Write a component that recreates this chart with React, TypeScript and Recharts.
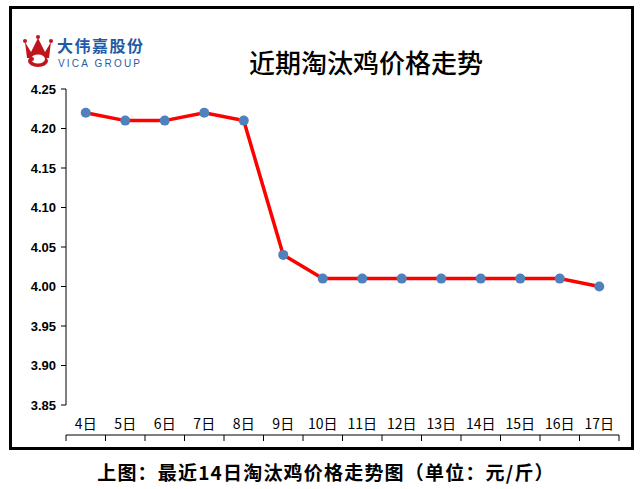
import { LineChart, Line, XAxis, YAxis } from "recharts";

const days = ["4日", "5日", "6日", "7日", "8日", "9日", "10日", "11日", "12日", "13日", "14日", "15日", "16日", "17日"];
const prices = [4.22, 4.21, 4.21, 4.22, 4.21, 4.04, 4.01, 4.01, 4.01, 4.01, 4.01, 4.01, 4.01, 4.0];
const yTicks = [3.85, 3.9, 3.95, 4.0, 4.05, 4.1, 4.15, 4.2, 4.25];
const boundaryTicks = days.map((_, i) => i).concat(days.length);
const centerTicks = days.map((_, i) => i + 0.5);

const data = days.map((d, i) => ({ day: d, x: i + 0.5, price: prices[i] }));

const Crown = () => (
  <svg width="32" height="34" viewBox="0 0 32 34" style={{ position: "absolute", left: 22, top: 34 }}>
    <path d="M3 8 L9 18 L16 4 L23 18 L29 8 L27 24 L5 24 Z" fill="#c0141c" />
    <circle cx="3" cy="7" r="2" fill="#c0141c" />
    <circle cx="16" cy="3" r="2" fill="#c0141c" />
    <circle cx="29" cy="7" r="2" fill="#c0141c" />
    <ellipse cx="16" cy="27" rx="10" ry="6" fill="#c0141c" />
    <ellipse cx="16" cy="25" rx="7" ry="4.5" fill="#fff" />
    <circle cx="10" cy="25" r="2" fill="#c0141c" />
  </svg>
);

const App = () => (
  <div style={{ position: "absolute", left: 0, top: 0, width: 641, height: 489, background: "#fff" }}>
    <div
      style={{
        position: "absolute",
        left: 9,
        top: 6,
        width: 625,
        height: 444,
        border: "3px solid #000",
        boxSizing: "border-box",
      }}
    />
    <Crown />
    <div
      style={{
        position: "absolute",
        left: 57,
        top: 37,
        fontFamily: "'Noto Sans CJK SC'",
        fontWeight: 700,
        fontSize: 16,
        color: "#1f5ca8",
        letterSpacing: 1.5,
        lineHeight: "16px",
      }}
    >
      大伟嘉股份
    </div>
    <div
      style={{
        position: "absolute",
        left: 58,
        top: 59,
        fontFamily: "'Liberation Sans'",
        fontSize: 10,
        color: "#1f5ca8",
        letterSpacing: 2.2,
        lineHeight: "10px",
      }}
    >
      VICA GROUP
    </div>
    <div
      style={{
        position: "absolute",
        left: 166,
        width: 400,
        top: 46,
        textAlign: "center",
        fontFamily: "'Noto Sans CJK SC'",
        fontWeight: 500,
        fontSize: 26,
        lineHeight: "32px",
        color: "#000",
      }}
    >
      近期淘汰鸡价格走势
    </div>
    <div style={{ position: "absolute", left: 0, top: 0 }}>
      <LineChart width={641} height={489} data={data} margin={{ top: 89, right: 22, bottom: 53, left: 16 }}>
        <XAxis
          xAxisId="ticks"
          type="number"
          dataKey="x"
          domain={[0, days.length]}
          ticks={boundaryTicks}
          tickFormatter={() => ""}
          height={1}
          tickSize={6}
          stroke="#000"
          tickLine={{ stroke: "#000" }}
        />
        <XAxis
          xAxisId="labels"
          type="number"
          dataKey="x"
          domain={[0, days.length]}
          ticks={centerTicks}
          tickFormatter={(v: number) => days[Math.floor(v)]}
          height={30}
          axisLine={false}
          tickLine={false}
          tickSize={0}
          tickMargin={14}
          interval={0}
          tick={{ fill: "#000", fontSize: 14, fontFamily: "'Noto Sans CJK SC'" }}
        />
        <YAxis
          domain={[3.85, 4.25]}
          ticks={yTicks}
          type="number"
          width={50}
          interval={0}
          tickFormatter={(v: number) => v.toFixed(2)}
          stroke="#000"
          tickSize={5}
          tickMargin={5}
          tick={{ fill: "#000", fontSize: 13, fontWeight: 700, fontFamily: "'Liberation Sans'" }}
        />
        <Line
          xAxisId="labels"
          dataKey="price"
          stroke="#ff0000"
          strokeWidth={3.5}
          dot={{ r: 5, fill: "#4f81bd", stroke: "none" }}
          isAnimationActive={false}
        />
      </LineChart>
    </div>
    <div
      style={{
        position: "absolute",
        left: 0,
        width: 652,
        top: 460,
        textAlign: "center",
        fontFamily: "'Noto Sans CJK SC'",
        fontWeight: 700,
        fontSize: 19,
        lineHeight: "24px",
        letterSpacing: 1.2,
        color: "#000",
      }}
    >
      上图：最近14日淘汰鸡价格走势图（单位：元/斤）
    </div>
  </div>
);

export default App;
